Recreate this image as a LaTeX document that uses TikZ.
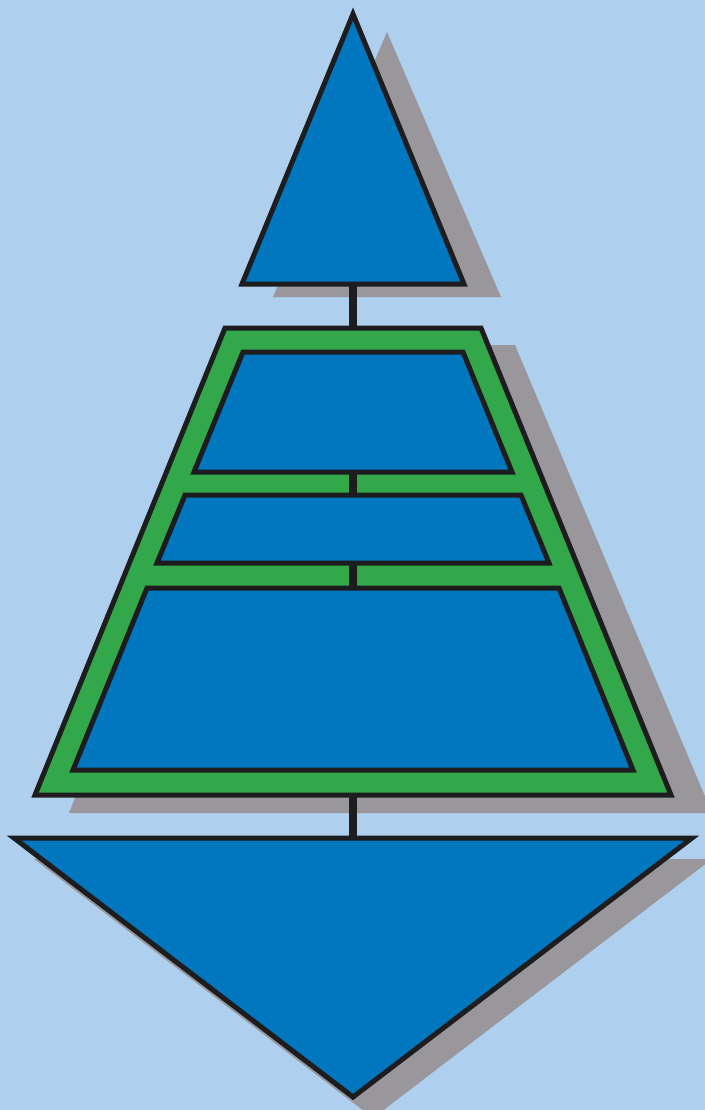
\documentclass[tikz,border=0pt]{standalone}
\usepackage{tikz}
\definecolor{skyback}{HTML}{AED0EE}
\definecolor{tierblue}{HTML}{0077BE}
\definecolor{framegreen}{HTML}{33A84A}
\definecolor{shadowgray}{HTML}{99979C}
\definecolor{inkline}{HTML}{1D1D1F}

\begin{document}
\begin{tikzpicture}[
  x=0.1mm,y=-0.1mm,
  shade/.style={fill=shadowgray},
  tier/.style={draw=inkline,fill=tierblue,line width=0.5mm,line join=miter},
  frame/.style={draw=inkline,fill=framegreen,line width=0.5mm,line join=miter},
  stem/.style={draw=inkline,line width=0.75mm}]
\clip (0,0) rectangle (705,1110);
\fill[skyback] (0,0) rectangle (705,1110);
% shadows
\fill[shade] (387,32) -- (501,297) -- (273,297) -- cycle;
\fill[shade] (254,345) -- (515,345) -- (712,813) -- (69,813) -- cycle;
\fill[shade] (34,859) -- (712,859) -- (373,1118) -- cycle;
% stem ends
\coordinate (topBase) at (353,284);
\coordinate (frameTop) at (353,328);
\coordinate (tierAbot) at (353,472);
\coordinate (tierBtop) at (353,495);
\coordinate (tierBbot) at (353,563);
\coordinate (tierCtop) at (353,588);
\coordinate (frameBot) at (353,795);
\coordinate (arrowTop) at (353,838);
\draw[stem] (topBase) -- (frameTop);
\draw[stem] (frameBot) -- (arrowTop);
% green frame
\path[frame] (225,328) -- (481,328) -- (671,795) -- (35,795) -- cycle;
\draw[stem] (tierAbot) -- (tierBtop);
\draw[stem] (tierBbot) -- (tierCtop);
% tiers
\path[tier] (243,352) -- (463,352) -- (512,472) -- (194,472) -- cycle;
\path[tier] (185,495) -- (521,495) -- (549,563) -- (157,563) -- cycle;
\path[tier] (147,588) -- (559,588) -- (633,770) -- (73,770) -- cycle;
% triangles
\path[tier] (353,14) -- (464,284) -- (242,284) -- cycle;
\path[tier] (14,838) -- (692,838) -- (353,1097) -- cycle;
\end{tikzpicture}
\end{document}
